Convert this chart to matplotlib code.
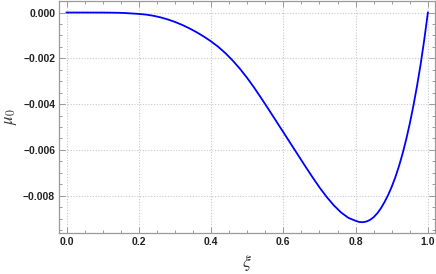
import matplotlib
matplotlib.use("Agg")
import matplotlib.pyplot as plt
from matplotlib.ticker import MultipleLocator

# values
xi = [0.0, 0.05, 0.1, 0.12, 0.14, 0.16, 0.18, 0.2, 0.22, 0.24, 0.26, 0.28,
      0.3, 0.32, 0.34, 0.36, 0.38, 0.4, 0.42, 0.44, 0.46, 0.48, 0.5, 0.52,
      0.54, 0.56, 0.58, 0.6, 0.62, 0.64, 0.66, 0.68, 0.7, 0.72, 0.74, 0.76,
      0.78, 0.8, 0.81, 0.82, 0.83, 0.84, 0.85, 0.86, 0.87, 0.88, 0.89, 0.9,
      0.91, 0.92, 0.93, 0.94, 0.95, 0.96, 0.97, 0.98, 0.99, 1.0]
mu0 = [0.0, 0.0, -0.000002, -0.000005, -0.00001, -0.00002, -0.00004,
       -0.00006, -0.00009, -0.00014, -0.00021, -0.0003, -0.00041, -0.00054,
       -0.00069, -0.00086, -0.00105, -0.00126, -0.0015, -0.00178, -0.0021,
       -0.00246, -0.00286, -0.0033, -0.00377, -0.00425, -0.00474, -0.00523,
       -0.00572, -0.00621, -0.0067, -0.00718, -0.00764, -0.00806, -0.00843,
       -0.00874, -0.00897, -0.0091, -0.00915, -0.00916, -0.00913, -0.00906,
       -0.00894, -0.00877, -0.00855, -0.00828, -0.00797, -0.00761, -0.00719,
       -0.00671, -0.00616, -0.00554, -0.00484, -0.00406, -0.0032, -0.00225,
       -0.00118, 0.0]

x_ticks = [0.0, 0.2, 0.4, 0.6, 0.8, 1.0]
y_ticks = [0.0, -0.002, -0.004, -0.006, -0.008]

plt.rcParams["mathtext.fontset"] = "stix"

fig = plt.figure(figsize=(4.36, 2.74), dpi=100)
ax = fig.add_axes([0.136, 0.149, 0.862, 0.849])

ax.plot(xi, mu0, color=(0.0, 0.0, 1.0), lw=1.3)

ax.set_xlim(-0.02, 1.02)
ax.set_ylim(-0.00964, 0.000524)

ax.set_xticks(x_ticks)
ax.set_yticks(y_ticks)
ax.set_xticklabels([f"{v:.1f}" for v in x_ticks])
ax.set_yticklabels([f"{v:.3f}".replace("-", "\u2212") for v in y_ticks])
ax.xaxis.set_minor_locator(MultipleLocator(0.05))
ax.yaxis.set_minor_locator(MultipleLocator(0.0005))

ax.grid(True, which="major", color="#c8c8c8", ls=(0, (1, 1.5)), lw=0.8)

gray = "#9a9a9a"
for s in ax.spines.values():
    s.set_color(gray)
    s.set_linewidth(0.9)

ax.tick_params(which="both", direction="in", top=True, right=True,
               color=gray, width=0.7)
ax.tick_params(which="major", length=4, pad=3)
ax.tick_params(which="minor", length=2)
for lab in ax.get_xticklabels() + ax.get_yticklabels():
    lab.set_fontfamily("Liberation Sans")
    lab.set_fontweight("bold")
    lab.set_fontsize(7.5)
    lab.set_color("#222222")

ax.set_xlabel(r"$\xi$", fontsize=13, labelpad=4, color="#333333")
ax.set_ylabel(r"$\mu_0$", fontsize=12, labelpad=3, color="#333333")

fig.savefig("out.png", dpi=100)
